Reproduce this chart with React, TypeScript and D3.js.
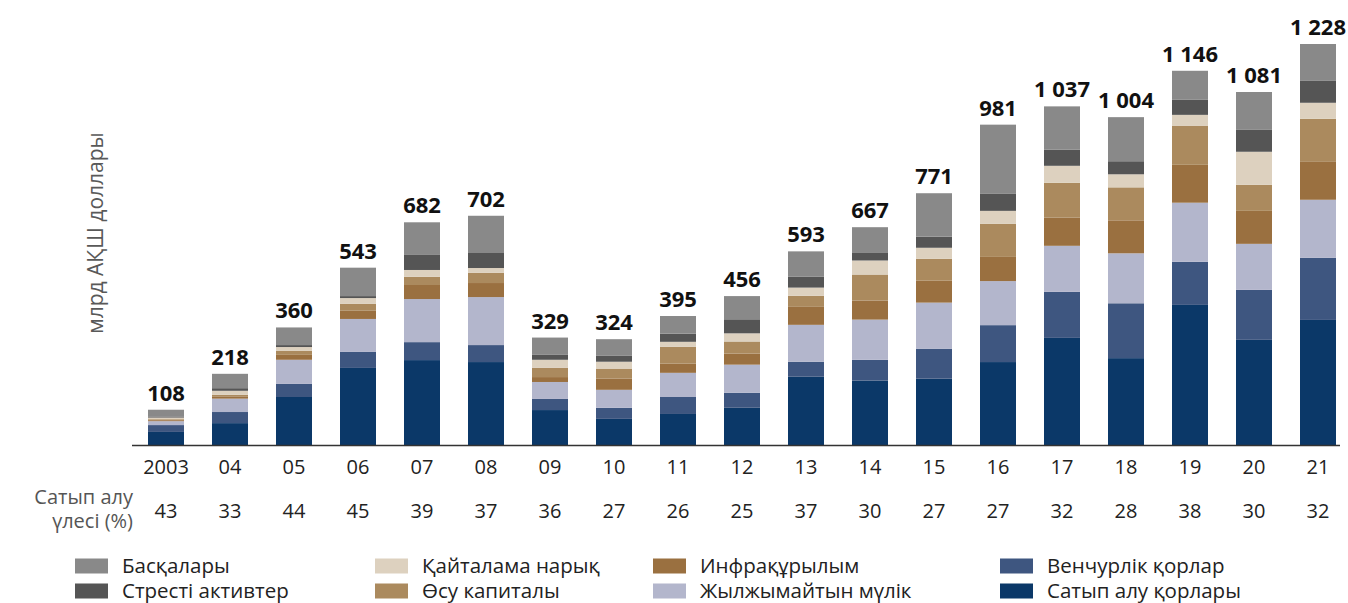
import React from "react";
import * as d3 from "d3";

const years = ["2003", "04", "05", "06", "07", "08", "09", "10", "11", "12", "13", "14", "15", "16", "17", "18", "19", "20", "21"];
const totals = [108, 218, 360, 543, 682, 702, 329, 324, 395, 456, 593, 667, 771, 981, 1037, 1004, 1146, 1081, 1228];
const buyoutShare = [43, 33, 44, 45, 39, 37, 36, 27, 26, 25, 37, 30, 27, 27, 32, 28, 38, 30, 32];

const buyout = [40, 67, 147, 236, 260, 254, 107, 80, 95, 114, 209, 197, 203, 254, 328, 266, 429, 322, 383];
const venture = [21, 34, 40, 49, 55, 52, 34, 34, 52, 46, 46, 64, 92, 113, 141, 168, 132, 153, 190];
const realEstate = [12, 41, 74, 101, 132, 147, 52, 55, 74, 86, 113, 123, 141, 135, 141, 153, 181, 141, 178];
const infrastructure = [3, 7, 15, 25, 43, 43, 15, 34, 28, 34, 55, 58, 67, 74, 86, 101, 116, 101, 116];
const growth = [3, 5, 12, 21, 25, 31, 28, 31, 52, 37, 34, 80, 67, 101, 107, 101, 119, 80, 132];
const secondaries = [5, 12, 12, 18, 21, 15, 25, 21, 15, 25, 25, 43, 34, 40, 52, 40, 34, 101, 49];
const distressed = [2, 8, 6, 6, 46, 46, 15, 18, 25, 43, 34, 25, 34, 52, 49, 40, 46, 67, 67];
const others = [22, 44, 54, 87, 100, 114, 53, 51, 54, 71, 77, 77, 133, 212, 133, 135, 89, 116, 113];

const seriesNames = [
  "Сатып алу қорлары",
  "Венчурлік қорлар",
  "Жылжымайтын мүлік",
  "Инфрақұрылым",
  "Өсу капиталы",
  "Қайталама нарық",
  "Стресті активтер",
  "Басқалары",
];
const seriesValues = [buyout, venture, realEstate, infrastructure, growth, secondaries, distressed, others];
const seriesColors = ["#0b3868", "#3e5680", "#b3b6cc", "#9a7040", "#ab8a5e", "#ddd1bf", "#555555", "#898989"];

// legend layout order: [column][row] -> series index
const legendOrder = [
  [7, 6],
  [5, 4],
  [3, 2],
  [1, 0],
];
const legendX = [75, 375, 653, 1000];
const legendY = [566, 591];

const FONT = "'Open Sans', 'Noto Sans', sans-serif";

export default function App() {
  const W = 1348;
  const H = 603;
  const x = d3.scaleBand<string>().domain(years).range([134, 134 + 19 * 64]).paddingInner(0.4375).paddingOuter(0.21875);
  const y = d3.scaleLinear().domain([0, 1228]).range([445, 44]);

  const table = years.map((yr, i) => {
    const row: any = { year: yr };
    seriesNames.forEach((n, s) => (row[n] = seriesValues[s][i]));
    return row;
  });
  const stacked = d3.stack<any>().keys(seriesNames)(table);
  const fmt = d3.formatLocale({ decimal: ",", thousands: " ", grouping: [3], currency: ["", ""] }).format(",d");

  return (
    <svg width={W} height={H} style={{ position: "absolute", left: 0, top: 0, background: "#fff" }} fontFamily={FONT}>
      {stacked.map((layer, s) => (
        <g key={s} fill={seriesColors[s]}>
          {layer.map((d, i) => (
            <rect key={i} x={x(years[i])} width={x.bandwidth()} y={y(d[1])} height={Math.max(0, y(d[0]) - y(d[1]))} />
          ))}
        </g>
      ))}
      <line x1={132} x2={1340} y1={445.5} y2={445.5} stroke="#333" strokeWidth={1.5} />
      {totals.map((t, i) => (
        <text key={i} x={(x(years[i]) as number) + x.bandwidth() / 2} y={y(t) - 9} textAnchor="middle" fontSize={22} fontWeight={700} fill="#111">
          {fmt(t)}
        </text>
      ))}
      {years.map((yr, i) => (
        <text key={i} x={(x(yr) as number) + x.bandwidth() / 2} y={474} textAnchor="middle" fontSize={20} fill="#222">
          {yr}
        </text>
      ))}
      {buyoutShare.map((v, i) => (
        <text key={i} x={(x(years[i]) as number) + x.bandwidth() / 2} y={518} textAnchor="middle" fontSize={20} fill="#222">
          {v}
        </text>
      ))}
      <text x={133} y={504} textAnchor="end" fontSize={20} fill="#555">Сатып алу</text>
      <text x={133} y={528} textAnchor="end" fontSize={20} fill="#555">үлесі (%)</text>
      <text transform="translate(103,233) rotate(-90)" textAnchor="middle" fontSize={21} fill="#595959">
        млрд АҚШ доллары
      </text>
      {legendOrder.map((col, c) =>
        col.map((s, r) => (
          <g key={`${c}-${r}`}>
            <rect x={legendX[c]} y={legendY[r] - 7.5} width={33} height={15} fill={seriesColors[s]} />
            <text x={legendX[c] + 47} y={legendY[r] + 7} fontSize={20.5} fill="#222">
              {seriesNames[s]}
            </text>
          </g>
        ))
      )}
    </svg>
  );
}
